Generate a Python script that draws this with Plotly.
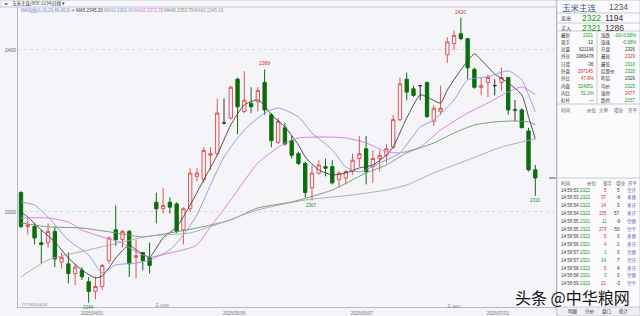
import plotly.graph_objects as go

W, H = 640, 316
BG = "#f4f4f9"
FONT = "Liberation Sans, Noto Sans CJK SC, sans-serif"
CJK = "Noto Sans CJK SC, sans-serif"

# ---------------- data ----------------
idx = list(range(1, 78))
opens = [2312, 2291, 2291, 2281, 2281, 2288, 2269, 2268, 2262, 2264, 2257, 2251, 2254, 2270, 2289, 2283, 2288, 2272, 2275, 2272,
         2306, 2302, 2306, 2305, 2289, 2302, 2322, 2320, 2335, 2336, 2355, 2358, 2382, 2362, 2367, 2368, 2380, 2360, 2343, 2352,
         2344, 2336, 2330, 2315, 2324, 2328, 2328, 2320, 2321, 2325, 2333, 2339, 2328, 2333, 2335, 2340, 2357, 2382, 2376, 2378,
         2380, 2356, 2362, 2397, 2404, 2410, 2407, 2388, 2377, 2380, 2378, 2380, 2383, 2363, 2363, 2350, 2326]
highs = [2313, 2296, 2293, 2289, 2293, 2291, 2275, 2275, 2268, 2266, 2260, 2260, 2268, 2285, 2304, 2289, 2289, 2283, 2275, 2281,
         2312, 2315, 2309, 2306, 2303, 2327, 2327, 2340, 2340, 2370, 2370, 2378, 2383, 2387, 2377, 2377, 2388, 2361, 2358, 2355,
         2347, 2337, 2331, 2329, 2332, 2333, 2332, 2325, 2326, 2336, 2347, 2347, 2338, 2338, 2342, 2360, 2383, 2386, 2378, 2378,
         2380, 2366, 2378, 2408, 2412, 2420, 2407, 2389, 2383, 2385, 2382, 2389, 2383, 2369, 2364, 2352, 2329]
lows = [2290, 2286, 2280, 2268, 2278, 2266, 2265, 2256, 2255, 2258, 2244, 2246, 2252, 2268, 2279, 2278, 2260, 2259, 2264, 2262,
        2293, 2299, 2299, 2287, 2280, 2300, 2319, 2318, 2326, 2335, 2354, 2357, 2348, 2361, 2361, 2362, 2360, 2340, 2342, 2341,
        2333, 2329, 2309, 2307, 2323, 2322, 2317, 2315, 2317, 2323, 2328, 2317, 2318, 2325, 2330, 2339, 2356, 2369, 2371, 2369,
        2358, 2353, 2360, 2392, 2400, 2406, 2382, 2376, 2372, 2371, 2372, 2375, 2360, 2356, 2352, 2325, 2310]
closes = [2291, 2292, 2284, 2280, 2288, 2271, 2272, 2262, 2266, 2260, 2251, 2254, 2267, 2284, 2283, 2288, 2268, 2273, 2270, 2267,
          2302, 2304, 2303, 2288, 2302, 2324, 2324, 2338, 2336, 2361, 2355, 2377, 2365, 2369, 2365, 2375, 2363, 2344, 2356, 2342,
          2335, 2330, 2312, 2324, 2329, 2327, 2318, 2324, 2325, 2332, 2336, 2325, 2333, 2335, 2339, 2357, 2379, 2374, 2372, 2378,
          2359, 2364, 2364, 2405, 2409, 2407, 2389, 2377, 2378, 2383, 2378, 2383, 2363, 2363, 2352, 2326, 2321]
doji_idx = [31, 60, 71, 74]

ma5_x = [1, 2, 4, 6, 8, 10, 12, 13, 14, 15, 17, 18, 20, 21, 22, 24, 26, 28, 30, 32, 34, 36, 37, 38, 40, 42, 43, 45, 47, 49,
         51, 53, 55, 56, 58, 60, 61, 63, 64, 66, 68, 69, 71, 73, 75, 76, 77]
ma5_v = [2300.0, 2296.9, 2288.9, 2281.5, 2271.6, 2264.2, 2259.3, 2260.5, 2265.5, 2271.6, 2279.6, 2276.6, 2272.2, 2277.8,
         2284.0, 2290.8, 2304.3, 2319.8, 2335.2, 2353.7, 2366.1, 2369.2, 2365.5, 2359.9, 2352.5, 2341.4, 2334.0, 2326.0,
         2322.9, 2324.1, 2327.2, 2329.0, 2335.2, 2340.2, 2358.0, 2372.3, 2371.0, 2367.3, 2375.3, 2387.7, 2397.6, 2393.9,
         2385.2, 2379.6, 2372.3, 2358.7, 2345.2]
ma10_x = [1, 3, 5, 8, 11, 13, 15, 18, 20, 23, 25, 27, 28, 31, 34, 37, 39, 42, 44, 47, 49, 51, 54, 57, 60, 62, 65, 67, 70,
          73, 75, 76, 77]
ma10_v = [2306.2, 2304.3, 2296.9, 2282.7, 2273.5, 2262.4, 2267.3, 2268.5, 2270.4, 2276.6, 2285.8, 2298.2, 2307.4, 2334.0,
          2350.6, 2361.1, 2364.2, 2358.7, 2348.8, 2338.3, 2327.8, 2324.7, 2330.3, 2336.5, 2352.5, 2356.8, 2369.2, 2381.5,
          2383.4, 2387.1, 2381.5, 2372.3, 2362.0]
ma20_x = [1, 5, 8, 10, 13, 16, 18, 20, 23, 26, 27, 29, 32, 36, 40, 42, 46, 49, 52, 55, 57, 60, 63, 67, 70, 73, 75, 76, 77]
ma20_v = [2296.3, 2296.3, 2293.8, 2288.9, 2284.6, 2280.9, 2275.3, 2272.2, 2274.7, 2277.8, 2279.6, 2290.8, 2307.4, 2330.3,
          2342.6, 2345.7, 2346.3, 2345.7, 2342.6, 2337.1, 2336.5, 2340.1, 2350.6, 2361.1, 2367.3, 2374.1, 2377.2, 2375.3,
          2372.35]
ma40_x = [1, 5, 10, 15, 19, 23, 27, 32, 36, 41, 47, 52, 55, 58, 62, 65, 68, 71, 74, 76, 77]
ma40_v = [2293.2, 2290.8, 2290.1, 2287.1, 2284.6, 2287.1, 2290.1, 2295.1, 2302.5, 2306.2, 2313.6, 2324.1, 2329.0, 2336.5,
          2342.6, 2348.8, 2353.7, 2355.6, 2356.2, 2355.6, 2353.79]
ma60_x = [1, 5, 11, 16, 20, 26, 31, 36, 43, 50, 55, 58, 62, 67, 72, 75, 77]
ma60_v = [2259.9, 2270.4, 2276.6, 2281.5, 2285.2, 2287.1, 2293.9, 2301.3, 2307.4, 2310.5, 2313.6, 2316.7, 2324.1, 2332.1,
          2340.1, 2343.2, 2345.16]

ma_names = ["MA5", "MA10", "MA20", "MA40", "MA60"]
ma_last = ["2345.20", "2362.00", "2372.35", "2353.79", "2345.16"]
ma_colors = ["#404040", "#8797d2", "#e070e0", "#6f956f", "#a8a8a8"]

date_ticks = [11.5, 32.5, 51.4, 71.5]
date_labels = ["2025/04/01", "2025/05/06", "2025/06/07", "2025/07/01"]
marks = [(11, "low", "2244"), (37, "high", "2389"), (44, "low", "2307"), (66, "high", "2420"), (77, "low", "2310")]

quote_rows = [("最新", "2321", "g", "涨跌", "-16/-0.68%", "g"),
              ("现手", "12", "k", "涨速", "-0.08%", "g"),
              ("总量", "621196", "k", "开盘", "2326", "k"),
              ("持仓", "1986478", "k", "最高", "2329", "r"),
              ("日增", "-36", "k", "最低", "2310", "g"),
              ("外盘", "297145", "r", "结算价", "2320", "g"),
              ("外比", "47.8%", "r", "昨结", "2326", "k"),
              ("内盘", "324051", "g", "均价", "2325", "g"),
              ("内比", "52.2%", "g", "涨停", "2477", "r"),
              ("杠杆", "—", "k", "跌停", "2157", "g")]
tick_time = ["14:59:53", "14:59:53", "14:59:54", "14:59:54", "14:59:55", "14:59:55", "14:59:56", "14:59:56",
             "14:59:57", "14:59:57", "14:59:58", "14:59:58", "14:59:59"]
tick_price = ["2322", "2322", "2322", "2322", "2321", "2322", "2322", "2321", "2321", "2321", "2322", "2321", "2322"]
tick_vol = ["5", "37", "14", "155", "11", "273", "5", "4", "1", "14", "5", "3", "21"]
tick_vol_dir = ["r", "r", "r", "r", "g", "r", "r", "r", "g", "g", "r", "g", "r"]
tick_oi = ["5", "-8", "3", "57", "-9", "-50", "0", "1", "0", "7", "4", "0", "-3"]
tick_type = ["空开", "多换", "多开", "多开", "空换", "空平", "多换", "多开", "空换", "空开", "多开", "空换", "空平"]

COL = {"r": "#e02424", "g": "#109a10", "k": "#333333"}

# ---------------- figure ----------------
X0, X1 = 18, 556          # plot area pixels
Y0, Y1 = 7, 307
fig = go.Figure()

up_i = [i for i in range(77) if idx[i] not in doji_idx and closes[i] >= opens[i]]
dn_i = [i for i in range(77) if idx[i] not in doji_idx and closes[i] < opens[i]]
dj_i = [i for i in range(77) if idx[i] in doji_idx]


def sub(lst, ii):
    return [lst[i] for i in ii]


for ii, lc, fc in [(up_i, "#e25555", BG), (dn_i, "#0b6e0b", "#0b6e0b"), (dj_i, "#333333", "#333333")]:
    fig.add_trace(go.Candlestick(
        x=sub(idx, ii), open=sub(opens, ii), high=sub(highs, ii), low=sub(lows, ii), close=sub(closes, ii),
        increasing=dict(line=dict(color=lc, width=1), fillcolor=fc),
        decreasing=dict(line=dict(color=lc, width=1), fillcolor=fc),
        whiskerwidth=0, showlegend=False, hoverinfo="skip"))

for xs, vs, c in zip([ma5_x, ma10_x, ma20_x, ma40_x, ma60_x], [ma5_v, ma10_v, ma20_v, ma40_v, ma60_v], ma_colors):
    fig.add_trace(go.Scatter(x=xs, y=vs, mode="lines", line=dict(color=c, width=0.9, shape="spline", smoothing=0.6),
                             showlegend=False, hoverinfo="skip"))

# high/low marks
for k, kind, txt in marks:
    i = k - 1
    if kind == "high":
        fig.add_annotation(x=k, y=highs[i], text=txt, showarrow=False, yanchor="bottom", yshift=1,
                           font=dict(size=5, color="#e03030", family=FONT))
    else:
        fig.add_annotation(x=k, y=lows[i], text=txt, showarrow=False, yanchor="top", yshift=0,
                           font=dict(size=4.5, color="#2a8a2a", family=FONT))

xr = [1 - (21 - X0) / 6.768, 77 + (X1 - 535.3) / 6.768]
yr = [2430.86 - 0.6173 * Y1, 2430.86 - 0.6173 * Y0]

fig.update_layout(
    width=W, height=H, margin=dict(l=0, r=0, t=0, b=0),
    paper_bgcolor=BG, plot_bgcolor=BG,
    xaxis=dict(domain=[X0 / W, X1 / W], range=xr, rangeslider=dict(visible=False), showgrid=False, zeroline=False,
               tickvals=date_ticks, ticktext=date_labels, ticks="", tickfont=dict(size=4.5, color="#777", family=FONT),
               ticklabelstandoff=2,
               showline=True, linecolor="#b8b8c4", linewidth=1, mirror=False),
    yaxis=dict(domain=[1 - Y1 / H, 1 - Y0 / H], range=yr, tickvals=[2300, 2400], ticktext=["2300", "2400"],
               showgrid=True, gridcolor="#d9d9e2", griddash="dot", zeroline=False, ticks="",
               tickfont=dict(size=5, color="#666", family=FONT), showline=True, linecolor="#b8b8c4", mirror=True),
    showlegend=False, font=dict(family=FONT),
)

ann = []
shp = []


def A(x, y, text, size=5, color="#333", xa="left", family=FONT):
    ann.append(dict(x=x / W, y=1 - y / H, xref="paper", yref="paper", text=text, showarrow=False,
                    xanchor=xa, yanchor="middle", font=dict(size=size, color=color, family=family)))


def L(x0, y0, x1, y1, c="#c8c8d4", w=1):
    shp.append(dict(type="line", xref="paper", yref="paper", x0=x0 / W, y0=1 - y0 / H, x1=x1 / W, y1=1 - y1 / H,
                    line=dict(color=c, width=w)))


def R(x0, y0, x1, y1, fill, c="#c8c8d4"):
    shp.append(dict(type="rect", xref="paper", yref="paper", x0=x0 / W, y0=1 - y0 / H, x1=x1 / W, y1=1 - y1 / H,
                    fillcolor=fill, line=dict(color=c, width=1), layer="below"))


# top title bar
R(0, 0, 556, 7, "#f7f7fb")
A(2, 3.5, "◂▸", 4, "#555")
A(10, 3.5, "玉米主连(9OE 1234)", 4.5, "#333", family=CJK)
A(50, 3.5, "日线 ▾", 4.5, "#333", family=CJK)
# MA legend
A(19, 11, "MA均线(5,10,20,40,60,0) ▾", 4.5, "#6c7fc8", family=CJK)
lx = [74, 102, 132, 162, 192]
for x, n, v, c in zip(lx, ma_names, ma_last, ma_colors):
    A(x, 11, f"{n} {v}", 4.5, c if c != "#a8a8a8" else "#999")
# bottom marks inside plot
A(20, 304, "??? 2025/3/18", 4, "#777", family=CJK)
A(153, 305, "主 2509", 4, "#777", family=CJK)
A(445, 306, "主 2601", 4, "#777", family=CJK)
# last price marker
L(549, 178, 556, 178, "#555")

# right panel
PX0 = 557
R(PX0, 0, 640, 316, "#fbfbfd")
A(560, 7, "玉米主连", 8.5, "#3d4f80", family=CJK)
A(607, 7, "1234", 8.5, "#555")
L(PX0, 13, 640, 13)
A(559, 18, "卖出", 5, "#333", family=CJK)
A(580, 18, "2322", 8.5, "#109a10")
A(603, 18, "1194", 8.5, "#333")
L(PX0, 23, 640, 23)
A(559, 28, "买入", 5, "#333", family=CJK)
A(580, 28, "2321", 8.5, "#109a10")
A(603, 28, "1286", 8.5, "#333")
L(PX0, 31, 640, 31)
L(597, 31, 597, 104)
for k, (l1, v1, c1, l2, v2, c2) in enumerate(quote_rows):
    y = 35 + 7.3 * k
    A(559, y, l1, 4.5, "#333", family=CJK)
    A(596, y, v1, 4.5, COL[c1], xa="right")
    A(599, y, l2, 4.5, "#333", family=CJK)
    A(638, y, v2, 4.5, COL[c2], xa="right")
L(PX0, 104, 640, 104)
for x, t in zip([559, 585, 597, 612, 626], ["时间", "价位", "大单", "增仓", "开平"]):
    A(x, 110, t, 4.5, "#555", family=CJK)
L(PX0, 178, 640, 178)
for x, t in zip([559, 585, 601, 614, 626], ["时间", "价位", "现手", "增仓", "开平"]):
    A(x, 183, t, 4.5, "#555", family=CJK)
for k in range(len(tick_time)):
    y = 190 + 7.8 * k
    A(559, y, tick_time[k], 4.5, "#333")
    A(593, y, tick_price[k], 4.5, "#109a10", xa="right")
    A(609, y, tick_vol[k], 4.5, COL[tick_vol_dir[k]], xa="right")
    A(622, y, tick_oi[k], 4.5, "#333", xa="right")
    A(625, y, tick_type[k], 4.5, "#5b6aa8", family=CJK)
# bottom tabs
R(PX0, 307, 640, 316, "#eeeef4")
for x, t in zip([566, 583, 600, 617], ["明细", "分价", "盘口", "统计"]):
    A(x, 311.5, t, 4.5, "#333", family=CJK)
# watermark
A(513, 297, "头条 @中华粮网", 16, "#111111", family=CJK)

fig.update_layout(annotations=list(fig.layout.annotations) + ann, shapes=shp)
fig.write_html("out.html")
